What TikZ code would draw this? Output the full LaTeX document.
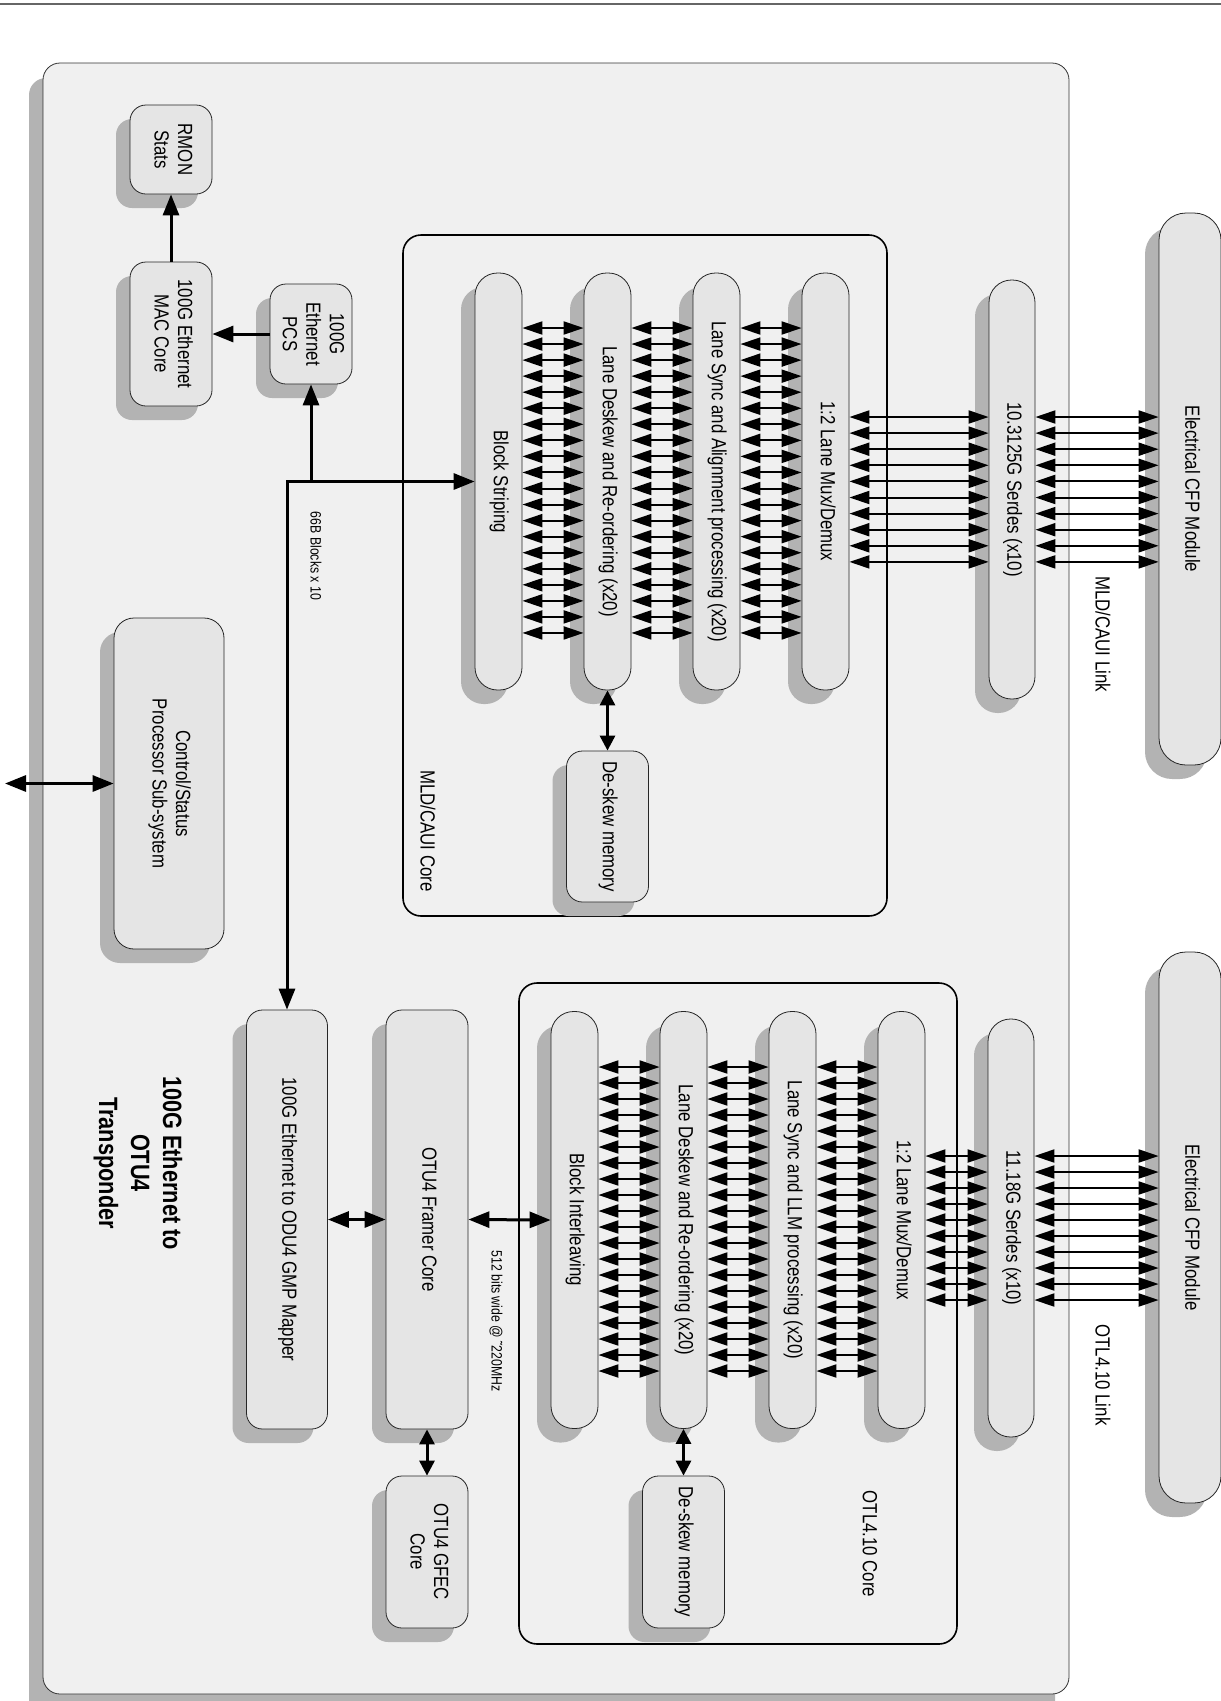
\documentclass[tikz,border=0pt]{standalone}
\usepackage{fontspec}
\setmainfont{Liberation Sans}[FakeStretch=0.82]
\usepackage{graphicx}
\usetikzlibrary{arrows.meta,shadows}

\definecolor{framefill}{HTML}{F0F0F0}
\definecolor{boxfill}{HTML}{E5E5E5}
\definecolor{shadowgray}{HTML}{B3B3B3}

\newcommand{\vtext}[1]{\rotatebox{-90}{\begin{tabular}{@{}c@{}}#1\end{tabular}}}

\tikzset{
  blk/.style={draw=black!85,line width=.8pt,fill=boxfill,rounded corners=16pt,inner sep=0pt,
    drop shadow={shadow xshift=-14pt,shadow yshift=-14pt,fill=shadowgray,draw=none,opacity=1},
    font=\fontsize{20.5}{23.5}\selectfont},
  pill/.style={blk,rounded corners=22.5pt,minimum width=47pt,minimum height=417pt},
  corebox/.style={draw=black,line width=1.6pt,rounded corners=18pt},
  lbl/.style={inner sep=0pt,rotate=-90,font=\fontsize{20.5}{23.5}\selectfont},
  small/.style={inner sep=0pt,rotate=-90,font=\fontsize{15}{18}\selectfont},
  lane/.style={line width=2pt,{Triangle[length=20pt,width=13pt]}-{Triangle[length=20pt,width=13pt]}},
  conn/.style={line width=3pt,-{Triangle[length=21pt,width=16pt]}},
  bconn/.style={line width=3pt,{Triangle[length=21pt,width=16pt]}-{Triangle[length=21pt,width=16pt]}},
  sconn/.style={line width=3pt,{Triangle[length=15pt,width=15pt]}-{Triangle[length=15pt,width=15pt]}}
}

\begin{document}
\begin{tikzpicture}[x=1pt,y=-1pt]
\path[use as bounding box] (0,0) rectangle (1221,1701);
\draw[black!60,line width=1.5pt] (0,4) -- (1221,4);
\fill[shadowgray,rounded corners=17pt] (29,78) rectangle (1055,1720);
\draw[black!80,fill=framefill,line width=.8pt,rounded corners=17pt] (43,63) rectangle (1069,1694);
\draw[corebox] (403,235) rectangle (887,916);
\draw[corebox] (519,983) rectangle (957,1644);

\node[blk,minimum width=82pt,minimum height=89pt] (rmon) at (171,149.5) {\vtext{RMON\\Stats}};
\node[blk,minimum width=82pt,minimum height=144pt] (mac) at (171,334) {\vtext{100G Ethernet\\MAC Core}};
\node[blk,minimum width=82pt,minimum height=100pt] (pcs) at (311,334) {\vtext{100G\\Ethernet\\PCS}};
\node[blk,rounded corners=20pt,minimum width=110pt,minimum height=331pt] (ctrl) at (169,783.5) {\vtext{Control/Status\\Processor Sub-system}};

\node[pill] (bs) at (498.5,481.5) {\vtext{Block Striping}};
\node[pill] (ld) at (607.5,481.5) {\vtext{Lane Deskew and Re-ordering (x20)}};
\node[pill] (ls) at (716.5,481.5) {\vtext{Lane Sync and Alignment processing (x20)}};
\node[pill] (mux) at (825.5,481.5) {\vtext{1:2 Lane Mux/Demux}};
\node[blk,minimum width=82pt,minimum height=151pt] (dsm) at (607.5,826.5) {\vtext{De-skew memory}};
\node[pill,minimum width=46pt,minimum height=419pt] (ser) at (1012,489.5) {\vtext{10.3125G Serdes (x10)}};
\node[blk,rounded corners=27pt,minimum width=62pt,minimum height=552pt] (cfp) at (1190,489) {\vtext{Electrical CFP Module}};

\node[blk,minimum width=81pt,minimum height=419pt] (gmp) at (287,1219.5) {\vtext{100G Ethernet to ODU4 GMP Mapper}};
\node[blk,minimum width=82pt,minimum height=419pt] (framer) at (427,1219.5) {\vtext{OTU4 Framer Core}};
\node[blk,minimum width=82pt,minimum height=152pt] (gfec) at (427,1552) {\vtext{OTU4 GFEC\\Core}};
\node[pill] (bi) at (574.5,1220) {\vtext{Block Interleaving}};
\node[pill] (ldb) at (683.5,1220) {\vtext{Lane Deskew and Re-ordering (x20)}};
\node[pill] (lsb) at (792.5,1220) {\vtext{Lane Sync and LLM processing (x20)}};
\node[pill] (muxb) at (901.5,1220) {\vtext{1:2 Lane Mux/Demux}};
\node[blk,minimum width=82pt,minimum height=152pt] (dsmb) at (683.5,1552) {\vtext{De-skew memory}};
\node[pill,minimum width=46pt,minimum height=418pt] (serb) at (1011,1228) {\vtext{11.18G Serdes (x10)}};
\node[blk,rounded corners=27pt,minimum width=62pt,minimum height=551pt] (cfpb) at (1190,1227.5) {\vtext{Electrical CFP Module}};

\node[lbl] (mldlbl) at (428,831) {MLD/CAUI Core};
\node[lbl] (otllbl) at (870,1544) {OTL4.10 Core};
\node[lbl] (mldlink) at (1103,634) {MLD/CAUI Link};
\node[lbl] (otllink) at (1103,1375) {OTL4.10 Link};
\node[small] (blk66) at (316,556) {66B Blocks x 10};
\node[small] (wide512) at (496,1321) {512 bits wide @ ˜220MHz};
\node[rotate=-90,align=center,inner sep=0pt,font=\bfseries\fontsize{26.5}{32}\selectfont] (title) at (138,1163) {100G Ethernet to\\OTU4\\Transponder};

\coordinate (jn) at (287,481.5);
\coordinate (ext) at (5,783.5);
\draw[conn] (mac) -- (rmon);
\draw[conn] (pcs) -- (mac);
\draw[bconn] (bs.west) -- (jn) -- (gmp.north);
\draw[conn] (pcs.south |- jn) -- (pcs.south);
\draw[bconn] (ext) -- (ctrl.west);
\draw[sconn] (ld.south) -- (dsm.north);
\draw[bconn] (gmp.east) -- (framer.west);
\draw[bconn] (framer.east) -- (bi.west);
\draw[sconn] (framer.south) -- (gfec.north);
\draw[sconn] (ldb.south) -- (dsmb.north);

\foreach \i in {0,...,19}{
  \pgfmathsetmacro\ly{328+16.05*\i}
  \draw[lane] (bs.east |- 0,\ly) -- (ld.west |- 0,\ly);
  \draw[lane] (ld.east |- 0,\ly) -- (ls.west |- 0,\ly);
  \draw[lane] (ls.east |- 0,\ly) -- (mux.west |- 0,\ly);
  \pgfmathsetmacro\lb{1067+16*\i}
  \draw[lane] (bi.east |- 0,\lb) -- (ldb.west |- 0,\lb);
  \draw[lane] (ldb.east |- 0,\lb) -- (lsb.west |- 0,\lb);
  \draw[lane] (lsb.east |- 0,\lb) -- (muxb.west |- 0,\lb);
}
\foreach \i in {0,...,9}{
  \pgfmathsetmacro\sy{417+16.1*\i}
  \draw[lane] (mux.east |- 0,\sy) -- (ser.west |- 0,\sy);
  \draw[lane] (ser.east |- 0,\sy) -- (cfp.west |- 0,\sy);
  \pgfmathsetmacro\sb{1156+16*\i}
  \draw[lane] (muxb.east |- 0,\sb) -- (serb.west |- 0,\sb);
  \draw[lane] (serb.east |- 0,\sb) -- (cfpb.west |- 0,\sb);
}
\end{tikzpicture}
\end{document}
